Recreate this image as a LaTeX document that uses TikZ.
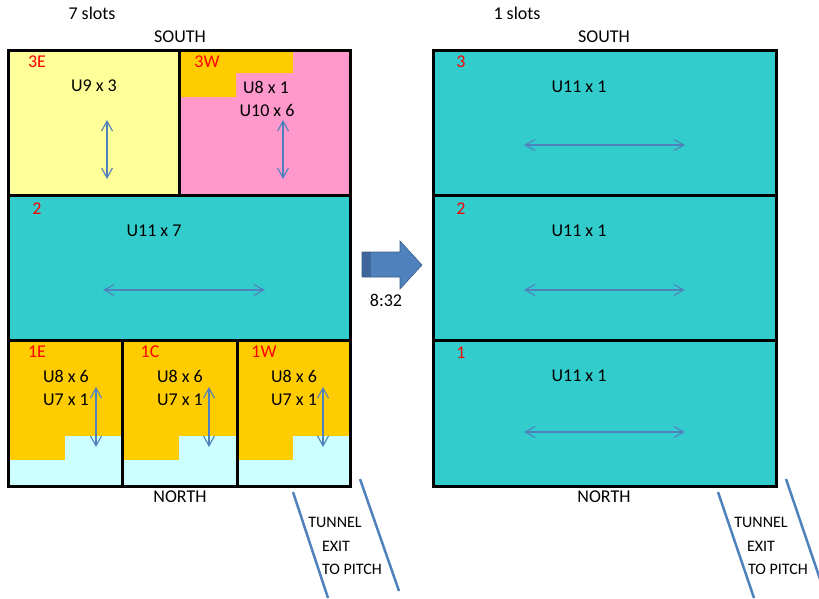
\documentclass[tikz,border=0pt]{standalone}
\usepackage{fontspec}
\setmainfont{Carlito}
\usetikzlibrary{arrows.meta}
\definecolor{yellowc}{HTML}{FFFF99}
\definecolor{pinkc}{HTML}{FF99CC}
\definecolor{orangec}{HTML}{FFCC00}
\definecolor{tealc}{HTML}{33CCCC}
\definecolor{cyanc}{HTML}{CCFFFF}
\definecolor{arrowblue}{HTML}{4F81BD}
\definecolor{arrowdark}{HTML}{385D8A}
\definecolor{arrowshade}{HTML}{3E669A}
\begin{document}
\begin{tikzpicture}[x=1pt,y=-1pt,
  txt/.style={font=\fontsize{18}{20}\selectfont, inner sep=0pt},
  rlbl/.style={font=\fontsize{18}{20}\selectfont, inner sep=0pt, text=red},
  tun/.style={font=\fontsize{16}{18}\selectfont, inner sep=0pt},
  wall/.style={line width=3pt},
  dbl/.style={draw=arrowblue, line width=1.1pt, {Straight Barb[length=10pt,width=11pt]}-{Straight Barb[length=10pt,width=11pt]}},
  tunline/.style={draw=arrowblue, line width=2.5pt}
]
\useasboundingbox (0,0) rectangle (819,598);
% ---------- left block fills ----------
\fill[yellowc] (8,50) rectangle (179,195);
\fill[pinkc] (179,50) rectangle (350,195);
\fill[orangec] (179,50) -- (293,50) -- (293,73) -- (236,73) -- (236,97) -- (179,97) -- cycle;
\fill[tealc] (8,195) rectangle (350,340);
\fill[orangec] (8,340) rectangle (350,486);
\fill[cyanc] (8,460) rectangle (350,486);
\fill[cyanc] (65,436) rectangle (122,460);
\fill[cyanc] (179,436) rectangle (237,460);
\fill[cyanc] (293,436) rectangle (350,460);
% walls
\draw[wall] (8,50) rectangle (350,486);
\draw[wall] (8,195) -- (350,195);
\draw[wall] (8,340) -- (350,340);
\draw[wall] (179,50) -- (179,195);
\draw[wall] (122,340) -- (122,486);
\draw[wall] (237,340) -- (237,486);
% texts left
\node[txt] (slots7) at (92,13) {7 slots};
\node[txt] (southL) at (180,37) {SOUTH};
\node[txt] (northL) at (180,497) {NORTH};
\node[rlbl] (l3E) at (37,62) {3E};
\node[txt] (u9) at (94,86) {U9 x 3};
\node[rlbl] (l3W) at (207,62) {3W};
\node[txt] (u8a) at (266,87) {U8 x 1};
\node[txt] (u10) at (267,110) {U10 x 6};
\node[rlbl] (l2) at (37,209) {2};
\node[txt] (u11) at (154,231) {U11 x 7};
\node[rlbl] (l1E) at (37,352) {1E};
\node[txt] (u8e) at (66,376) {U8 x 6};
\node[txt] (u7e) at (66,400) {U7 x 1};
\node[rlbl] (l1C) at (150,352) {1C};
\node[txt] (u8c) at (180,376) {U8 x 6};
\node[txt] (u7c) at (180,400) {U7 x 1};
\node[rlbl] (l1W) at (264,352) {1W};
\node[txt] (u8w) at (294,376) {U8 x 6};
\node[txt] (u7w) at (294,400) {U7 x 1};
% arrows left
\coordinate (a1s) at (107,120); \coordinate (a1e) at (107,179);
\coordinate (a2s) at (283,120); \coordinate (a2e) at (283,179);
\coordinate (a3s) at (103,290); \coordinate (a3e) at (265,290);
\coordinate (a4s) at (96,387); \coordinate (a4e) at (96,447);
\coordinate (a5s) at (209,387); \coordinate (a5e) at (209,447);
\coordinate (a6s) at (323,387); \coordinate (a6e) at (323,447);
\draw[dbl] (a1s) -- (a1e);
\draw[dbl] (a2s) -- (a2e);
\draw[dbl] (a3s) -- (a3e);
\draw[dbl] (a4s) -- (a4e);
\draw[dbl] (a5s) -- (a5e);
\draw[dbl] (a6s) -- (a6e);
% ---------- big arrow ----------
\fill[arrowblue] (362,252) -- (400,252) -- (400,241) -- (422,265) -- (400,289) -- (400,277) -- (362,277) -- cycle;
\fill[arrowshade] (362,252) rectangle (371,277);
\draw[arrowdark, line width=0.6pt] (362,252) -- (400,252) -- (400,241) -- (422,265) -- (400,289) -- (400,277) -- (362,277) -- cycle;
\node[txt] (time) at (386,300) {8:32};
% ---------- right block ----------
\fill[tealc] (433,50) rectangle (776,486);
\draw[wall] (433,50) rectangle (776,486);
\draw[wall] (433,195) -- (776,195);
\draw[wall] (433,340) -- (776,340);
\node[txt] (slots1) at (517,13) {1 slots};
\node[txt] (southR) at (604,37) {SOUTH};
\node[txt] (northR) at (604,497) {NORTH};
\node[rlbl] (r3) at (461,62) {3};
\node[rlbl] (r2) at (461,209) {2};
\node[rlbl] (r1) at (461,353) {1};
\node[txt] (ru3) at (579,87) {U11 x 1};
\node[txt] (ru2) at (579,231) {U11 x 1};
\node[txt] (ru1) at (579,376) {U11 x 1};
\coordinate (b1s) at (524,145); \coordinate (b1e) at (685,145);
\coordinate (b2s) at (524,290); \coordinate (b2e) at (685,290);
\coordinate (b3s) at (524,432); \coordinate (b3e) at (685,432);
\draw[dbl] (b1s) -- (b1e);
\draw[dbl] (b2s) -- (b2e);
\draw[dbl] (b3s) -- (b3e);
% ---------- tunnels ----------
\coordinate (t1a) at (293,492); \coordinate (t1b) at (328,598);
\coordinate (t2a) at (360,479); \coordinate (t2b) at (399,591);
\draw[tunline] (t1a) -- (t1b);
\draw[tunline] (t2a) -- (t2b);
\node[tun] (tunL1) at (335,522) {TUNNEL};
\node[tun] (tunL2) at (336,546) {EXIT};
\node[tun] (tunL3) at (352,569) {TO PITCH};
\coordinate (t3a) at (718,492); \coordinate (t3b) at (754,598);
\coordinate (t4a) at (786,479); \coordinate (t4b) at (822,585);
\draw[tunline] (t3a) -- (t3b);
\draw[tunline] (t4a) -- (t4b);
\node[tun] (tunR1) at (761,522) {TUNNEL};
\node[tun] (tunR2) at (761,546) {EXIT};
\node[tun] (tunR3) at (778,569) {TO PITCH};
\end{tikzpicture}
\end{document}
